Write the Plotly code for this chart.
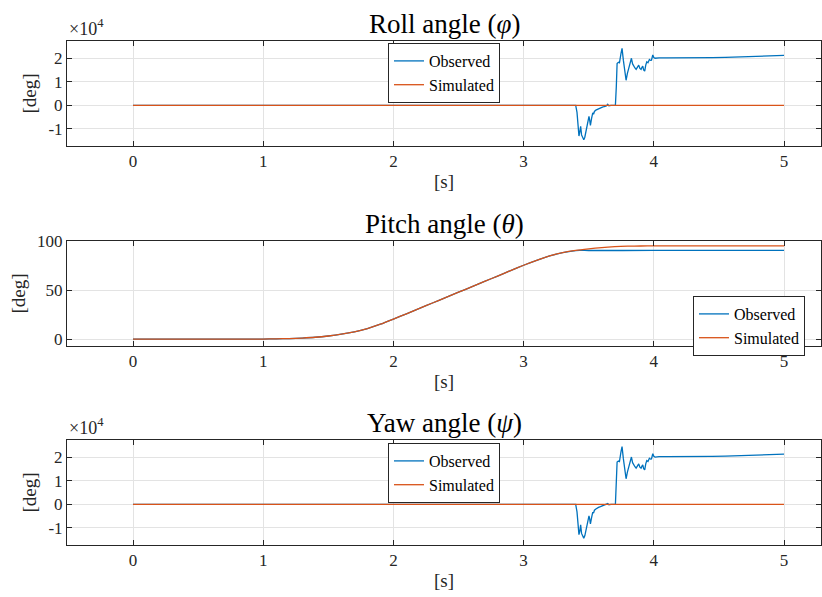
import plotly.graph_objects as go
from plotly.subplots import make_subplots

# ---- data -------------------------------------------------------------
roll_t = [0.00, 3.40, 3.41, 3.425, 3.432, 3.438, 3.445, 3.452, 3.462, 3.470,
          3.482, 3.492, 3.502, 3.508, 3.513, 3.522, 3.531, 3.537, 3.544, 3.555,
          3.565, 3.575, 3.590, 3.605, 3.620, 3.635, 3.646, 3.655, 3.671, 3.705,
          3.712, 3.718, 3.728, 3.736, 3.748, 3.756, 3.766, 3.777, 3.787, 3.797,
          3.807, 3.818, 3.828, 3.837, 3.846, 3.855, 3.864, 3.874, 3.884, 3.893,
          3.902, 3.910, 3.915, 3.922, 3.930, 3.938, 3.946, 3.955, 3.966, 3.975,
          3.982, 3.992, 4.000, 4.010, 4.04, 4.10, 4.20, 4.27, 4.35, 4.45,
          4.55, 4.66, 4.75, 4.85, 4.92, 5.00]
roll_obs = [0, 0, -3000, -13000, -11000, -8900, -12500, -13600, -14600, -13500,
            -10600, -8000, -4700, -6500, -8500, -5500, -3200, -3800, -2600, -2000,
            -1700, -1400, -1000, -800, -500, -300, 400, -200, 0, 0,
            8000, 17700, 18200, 18000, 22000, 24100, 19100, 14000, 10600, 13500,
            15600, 18000, 19900, 17500, 16300, 15800, 15200, 16000, 17000, 15600,
            15200, 16200, 16600, 15000, 14500, 17000, 18400, 18000, 19400, 19000,
            19100, 21300, 20200, 19900, 20100, 20100, 20050, 20100, 20150, 20200,
            20300, 20500, 20700, 20900, 21000, 21100]
roll_sim_t = [0.0, 5.0]
roll_sim = [0, 0]

yaw_t = roll_t
yaw_obs = [0, 0, -3200, -12800, -11200, -8700, -12300, -13500, -14300, -13300,
           -10400, -8100, -4900, -6400, -8300, -5600, -3300, -3700, -2500, -2000,
           -1600, -1300, -1000, -700, -500, -200, 300, -200, 0, 0,
           8200, 17900, 18300, 18100, 22300, 24400, 19300, 14200, 10800, 13600,
           15700, 18100, 20000, 17600, 16400, 15900, 15300, 16100, 17100, 15700,
           15300, 16300, 16700, 15100, 14600, 17100, 18500, 18100, 19500, 19100,
           19200, 21400, 20300, 20000, 20200, 20200, 20150, 20200, 20250, 20300,
           20400, 20600, 20800, 21000, 21100, 21200]
yaw_sim_t = [0.0, 5.0]
yaw_sim = [0, 0]

pitch_obs_t = [0.0, 0.5, 1.0, 1.1, 1.2, 1.3, 1.4, 1.5, 1.6, 1.7, 1.8, 1.9,
               2.0, 2.1, 2.2, 2.3, 2.4, 2.5, 2.6, 2.7, 2.8, 2.9, 3.0, 3.1,
               3.2, 3.3, 3.4, 3.43, 3.5, 4.0, 4.5, 5.0]
pitch_obs = [0.0, 0.0, 0.1, 0.3, 0.6, 1.1, 1.9, 3.2, 5.0, 7.4, 10.8, 15.2,
             20.4, 25.8, 31.3, 36.8, 42.3, 47.8, 53.3, 58.8, 64.3, 69.9, 75.3, 80.3,
             84.8, 88.1, 90.1, 90.4, 90.3, 90.4, 90.4, 90.4]
pitch_sim_t = [0.0, 0.5, 1.0, 1.1, 1.2, 1.3, 1.4, 1.5, 1.6, 1.7, 1.8, 1.9,
               2.0, 2.1, 2.2, 2.3, 2.4, 2.5, 2.6, 2.7, 2.8, 2.9, 3.0, 3.1,
               3.2, 3.3, 3.4, 3.5, 3.6, 3.7, 3.8, 3.9, 4.0, 4.2, 5.0]
pitch_sim = [0.0, 0.0, 0.1, 0.3, 0.6, 1.1, 1.9, 3.2, 5.0, 7.4, 10.8, 15.2,
             20.4, 25.8, 31.3, 36.8, 42.3, 47.8, 53.3, 58.8, 64.3, 69.9, 75.3, 80.3,
             84.8, 88.1, 90.4, 92.0, 93.3, 94.2, 94.7, 94.9, 95.0, 95.0, 95.0]

x_ticks = [0, 1, 2, 3, 4, 5]
big_ticks = [-10000, 0, 10000, 20000]
big_tick_text = ["-1", "0", "1", "2"]
pitch_ticks = [0, 50, 100]

titles = ["Roll angle (<i>φ</i>)", "Pitch angle (<i>θ</i>)", "Yaw angle (<i>ψ</i>)"]

# ---- styling ------------------------------------------------------------
W, H = 822, 597
L, R = 67, 1
FONT = "Liberation Serif, Times New Roman, serif"
BLUE = "#0072BD"
ORANGE = "#D95319"
AX = "#262626"
GRID = "#e3e3e3"

# axes boxes in pixel rows (top, bottom)
rows_px = [(41, 146), (241, 346), (440, 545)]

fig = make_subplots(rows=3, cols=1)

series = [
    (roll_t, roll_obs, roll_sim_t, roll_sim, "linear"),
    (pitch_obs_t, pitch_obs, pitch_sim_t, pitch_sim, "spline"),
    (yaw_t, yaw_obs, yaw_sim_t, yaw_sim, "linear"),
]
legend_names = ["legend", "legend2", "legend3"]

for i, (to, yo, ts, ys, shape) in enumerate(series):
    r = i + 1
    fig.add_trace(go.Scatter(x=to, y=yo, mode="lines", name="Observed",
                             line=dict(color=BLUE, width=1.3, shape=shape,
                                       smoothing=0.6 if shape == "spline" else None),
                             legend=legend_names[i]), row=r, col=1)
    fig.add_trace(go.Scatter(x=ts, y=ys, mode="lines", name="Simulated",
                             line=dict(color=ORANGE, width=1.3, shape=shape,
                                       smoothing=0.6 if shape == "spline" else None),
                             legend=legend_names[i]), row=r, col=1)

axis_common = dict(showline=True, linecolor=AX, linewidth=1, mirror="ticks",
                   ticks="inside", ticklen=5, tickcolor=AX, tickwidth=1,
                   showgrid=True, gridcolor=GRID, gridwidth=1, zeroline=False,
                   automargin=False,
                   tickfont=dict(family=FONT, size=17, color=AX))

yranges = [[-17200, 27200], [-7, 100], [-17200, 27200]]
yticks = [(big_ticks, big_tick_text), (pitch_ticks, [str(v) for v in pitch_ticks]),
          (big_ticks, big_tick_text)]

for i, (top, bot) in enumerate(rows_px):
    r = i + 1
    dom = [1 - bot / H, 1 - top / H]
    fig.update_xaxes(axis_common, row=r, col=1, range=[-0.507, 5.284],
                     tickvals=x_ticks, ticktext=[str(v) for v in x_ticks],
                     title=dict(text="[s]", font=dict(family=FONT, size=19, color=AX),
                                standoff=4))
    fig.update_yaxes(axis_common, row=r, col=1, range=yranges[i], domain=dom,
                     tickvals=yticks[i][0], ticktext=yticks[i][1],
                     title=dict(text="[deg]", font=dict(family=FONT, size=19, color=AX),
                                standoff=6))
    fig.add_annotation(text=titles[i], xref="paper", yref="paper",
                       x=0.5, y=1 - top / H, xanchor="center", yanchor="bottom",
                       yshift=0, showarrow=False,
                       font=dict(family=FONT, size=27, color="#000000"))

# exponent labels on roll and yaw axes
for top in (rows_px[0][0], rows_px[2][0]):
    fig.add_annotation(text="×10<sup>4</sup>", xref="paper", yref="paper",
                       x=0.0, y=1 - top / H, xanchor="left", yanchor="bottom",
                       showarrow=False,
                       font=dict(family=FONT, size=18, color=AX))

legend_style = dict(bgcolor="white", bordercolor=AX, borderwidth=1,
                    font=dict(family=FONT, size=16, color="#000000"),
                    xanchor="left", yanchor="top", tracegroupgap=0,
                    itemwidth=30)


def px_x(px):
    return (px - L) / (W - L - R)


def px_y(py):
    return 1 - py / H


fig.update_layout(
    width=W, height=H,
    margin=dict(l=L, r=R, t=0, b=0),
    font=dict(family=FONT, size=17, color=AX),
    paper_bgcolor="white", plot_bgcolor="white",
    showlegend=True,
    legend=dict(legend_style, x=px_x(388), y=px_y(43)),
    legend2=dict(legend_style, x=px_x(693), y=px_y(296)),
    legend3=dict(legend_style, x=px_x(388), y=px_y(443)),
)

fig.write_html("out.html")
